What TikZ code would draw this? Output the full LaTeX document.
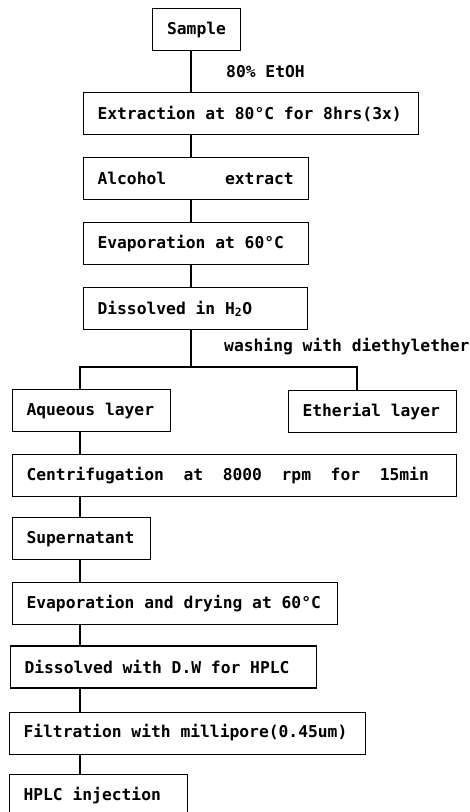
\documentclass[tikz,border=0pt]{standalone}
\usepackage{fontspec}
\setmonofont{DejaVu Sans Mono}
\usetikzlibrary{positioning}
\newcommand{\flowfont}{\fontsize{16.3}{18}\selectfont\ttfamily\bfseries}

\begin{document}
\begin{tikzpicture}[x=1pt,y=1pt,node distance=22pt,
  stage/.style={draw,line width=1.1pt,anchor=north west,align=left,inner xsep=14pt,inner ysep=0pt,
    minimum height=42pt,font=\flowfont,execute at begin node={\spaceskip=0.602em\relax}},
  note/.style={anchor=west,inner sep=0pt,font=\flowfont}]
  \useasboundingbox (0,0) rectangle (470,-812);
  \coordinate (spine) at (191,0);
  \coordinate (low) at (80,0);
  \coordinate (ethx) at (357,0);
  % extraction
  \node[stage,align=center,text width=60pt] (sample) at (152,-8) {Sample};
  \node[stage,text width=307pt] (ext) at (83,-92) {Extraction at 80°C for 8hrs(3x)};
  \node[stage,text width=197pt,below=of ext.south west,anchor=north west] (alc) {Alcohol~~~~~~extract};
  \node[stage,text width=197pt,below=of alc.south west,anchor=north west] (evap) {Evaporation at 60°C};
  \node[stage,text width=196pt,below=of evap.south west,anchor=north west] (diss) {Dissolved in H\textsubscript{2}O};
  \node[note] (etoh) at (226,-72) {80\% EtOH};
  % partition
  \node[stage,text width=130pt] (aq) at (12,-389) {Aqueous layer};
  \node[stage,text width=140pt] (eth) at (288,-390) {Etherial layer};
  \node[note] (wash) at (224,-347) {washing with diethylether};
  % clean-up
  \node[stage,text width=416pt,below=of aq.south west,anchor=north west] (cent) {Centrifugation~~at~~8000~~rpm~~for~~15min};
  \node[stage,text width=110pt,below=20pt of cent.south west,anchor=north west] (sup) {Supernatant};
  \node[stage,text width=297pt,below=of sup.south west,anchor=north west] (evd) {Evaporation and drying at 60°C};
  \node[stage,text width=278pt,below=20pt of evd.south west,anchor=north west,xshift=-2pt] (dw) {Dissolved with D.W for HPLC};
  \node[stage,text width=328pt,below=23pt of dw.south west,anchor=north west,xshift=-1pt] (filt) {Filtration with millipore(0.45um)};
  \node[stage,text width=150pt,below=19pt of filt.south west,anchor=north west] (hplc) {HPLC injection};
  \begin{scope}[line width=1.1pt]
    \foreach \a/\b in {sample/ext,ext/alc,alc/evap,evap/diss}
      \draw (\a.south -| spine) -- (\b.north -| spine);
    \draw (diss.south -| spine) -- (0,-367 -| spine) coordinate (split);
    \draw (aq.north -| low) -- (low |- split) -- (ethx |- split) -- (eth.north -| ethx);
    \foreach \a/\b in {aq/cent,cent/sup,sup/evd,evd/dw,dw/filt,filt/hplc}
      \draw (\a.south -| low) -- (\b.north -| low);
  \end{scope}
\end{tikzpicture}
\end{document}
